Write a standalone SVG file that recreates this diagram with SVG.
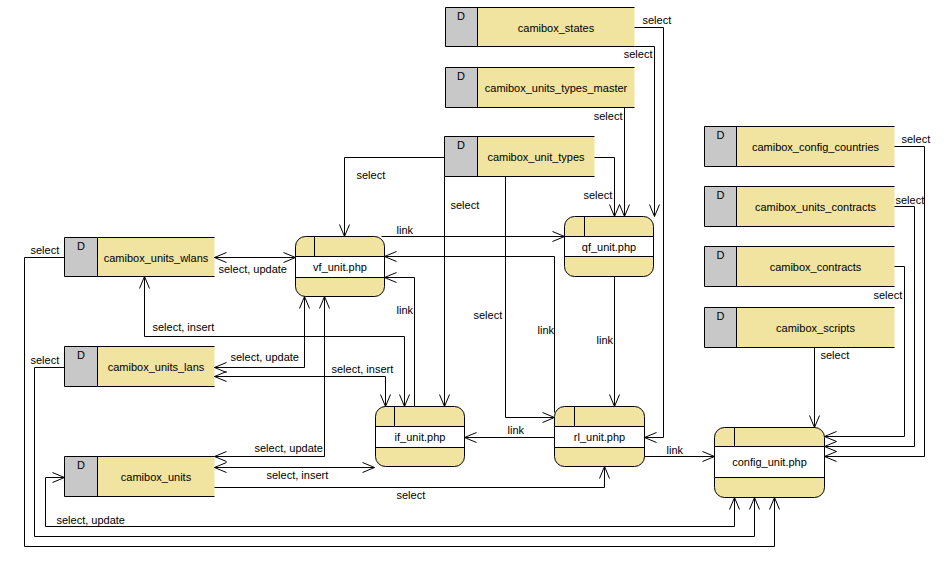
<svg xmlns="http://www.w3.org/2000/svg" width="952" height="568" viewBox="0 0 952 568">
<style>
text{font-family:"Liberation Sans",Arial,sans-serif;font-size:11px;fill:#000}
.c{text-anchor:middle}
.e{text-anchor:end}
.gray{fill:#c8c8c8}
.yel{fill:#f0e4a0}
.edge{fill:none;stroke:#000;stroke-width:1}
.band{fill:#fff}
.conn path{fill:none;stroke:#000;stroke-width:1}
.one{marker-end:url(#arr)}
.two{marker-start:url(#arr);marker-end:url(#arr)}
</style>
<defs>
<marker id="arr" viewBox="0 0 13 11" markerWidth="13" markerHeight="11" refX="12.5" refY="5.5" orient="auto-start-reverse" markerUnits="userSpaceOnUse">
<path d="M0.5,0.5 L12.5,5.5 L0.5,10.5" fill="none" stroke="#000" stroke-width="1"/>
</marker>
</defs>
<rect width="952" height="568" fill="#fff"/>
<g transform="translate(0.5,0.5)">
<!-- data stores -->
<g id="camibox_states">
<rect class="gray" x="445" y="7" width="32" height="39"/><rect class="yel" x="477" y="7" width="157" height="39"/>
<path class="edge" d="M634,7 H445 V46 H634 M477,7 V46"/>
<text class="c" x="460.5" y="19">D</text><text class="c" x="555.5" y="31">camibox_states</text>
</g>
<g id="camibox_units_types_master">
<rect class="gray" x="445" y="67" width="32" height="40"/><rect class="yel" x="477" y="67" width="157" height="40"/>
<path class="edge" d="M634,67 H445 V107 H634 M477,67 V107"/>
<text class="c" x="460.5" y="79">D</text><text class="c" x="555.5" y="91">camibox_units_types_master</text>
</g>
<g id="camibox_unit_types">
<rect class="gray" x="444" y="136" width="33" height="40"/><rect class="yel" x="477" y="136" width="117" height="40"/>
<path class="edge" d="M594,136 H444 V176 H594 M477,136 V176"/>
<text class="c" x="460.5" y="148">D</text><text class="c" x="535.5" y="160">camibox_unit_types</text>
</g>
<g id="camibox_config_countries">
<rect class="gray" x="704" y="126" width="32" height="40"/><rect class="yel" x="736" y="126" width="158" height="40"/>
<path class="edge" d="M894,126 H704 V166 H894 M736,126 V166"/>
<text class="c" x="720" y="138">D</text><text class="c" x="815" y="150">camibox_config_countries</text>
</g>
<g id="camibox_units_contracts">
<rect class="gray" x="704" y="186" width="32" height="40"/><rect class="yel" x="736" y="186" width="158" height="40"/>
<path class="edge" d="M894,186 H704 V226 H894 M736,186 V226"/>
<text class="c" x="720" y="198">D</text><text class="c" x="815" y="210">camibox_units_contracts</text>
</g>
<g id="camibox_contracts">
<rect class="gray" x="704" y="246" width="32" height="40"/><rect class="yel" x="736" y="246" width="158" height="40"/>
<path class="edge" d="M894,246 H704 V286 H894 M736,246 V286"/>
<text class="c" x="720" y="258">D</text><text class="c" x="815" y="270">camibox_contracts</text>
</g>
<g id="camibox_scripts">
<rect class="gray" x="704" y="307" width="32" height="40"/><rect class="yel" x="736" y="307" width="158" height="40"/>
<path class="edge" d="M894,307 H704 V347 H894 M736,307 V347"/>
<text class="c" x="720" y="319">D</text><text class="c" x="815" y="331">camibox_scripts</text>
</g>
<g id="camibox_units_wlans">
<rect class="gray" x="64" y="237" width="33" height="39"/><rect class="yel" x="97" y="237" width="117" height="39"/>
<path class="edge" d="M214,237 H64 V276 H214 M97,237 V276"/>
<text class="c" x="80.5" y="249">D</text><text class="c" x="155.5" y="261">camibox_units_wlans</text>
</g>
<g id="camibox_units_lans">
<rect class="gray" x="64" y="346" width="33" height="40"/><rect class="yel" x="97" y="346" width="117" height="40"/>
<path class="edge" d="M214,346 H64 V386 H214 M97,346 V386"/>
<text class="c" x="80.5" y="358">D</text><text class="c" x="155.5" y="370">camibox_units_lans</text>
</g>
<g id="camibox_units">
<rect class="gray" x="64" y="456" width="33" height="40"/><rect class="yel" x="97" y="456" width="117" height="40"/>
<path class="edge" d="M214,456 H64 V496 H214 M97,456 V496"/>
<text class="c" x="80.5" y="468">D</text><text class="c" x="155.5" y="480">camibox_units</text>
</g>
<!-- processes -->
<g id="vf_unit">
<rect class="yel" x="295" y="236" width="89" height="60" rx="10"/>
<rect class="band" x="295" y="256" width="89" height="21"/>
<path class="edge" d="M295,256 H384 M295,277 H384 M314,236 V256"/>
<rect class="edge" x="295" y="236" width="89" height="60" rx="10"/>
<text class="c" x="339.5" y="270">vf_unit.php</text>
</g>
<g id="qf_unit">
<rect class="yel" x="564" y="216" width="89" height="60" rx="10"/>
<rect class="band" x="564" y="236" width="89" height="20"/>
<path class="edge" d="M564,236 H653 M564,256 H653 M584,216 V236"/>
<rect class="edge" x="564" y="216" width="89" height="60" rx="10"/>
<text class="c" x="608.5" y="250">qf_unit.php</text>
</g>
<g id="if_unit">
<rect class="yel" x="375" y="406" width="89" height="60" rx="10"/>
<rect class="band" x="375" y="426" width="89" height="21"/>
<path class="edge" d="M375,426 H464 M375,447 H464 M394,406 V426"/>
<rect class="edge" x="375" y="406" width="89" height="60" rx="10"/>
<text class="c" x="419.5" y="440">if_unit.php</text>
</g>
<g id="rl_unit">
<rect class="yel" x="554" y="406" width="90" height="60" rx="10"/>
<rect class="band" x="554" y="426" width="90" height="21"/>
<path class="edge" d="M554,426 H644 M554,447 H644 M574,406 V426"/>
<rect class="edge" x="554" y="406" width="90" height="60" rx="10"/>
<text class="c" x="599" y="440">rl_unit.php</text>
</g>
<g id="config_unit">
<rect class="yel" x="714" y="427" width="110" height="70" rx="10"/>
<rect class="band" x="714" y="446" width="110" height="31"/>
<path class="edge" d="M714,446 H824 M714,477 H824 M734,427 V446"/>
<rect class="edge" x="714" y="427" width="110" height="70" rx="10"/>
<text class="c" x="769" y="465">config_unit.php</text>
</g>
<!-- connectors -->
<g id="connectors" class="conn">
<path class="one" d="M634,27 H663 V437 H644"/>
<path class="one" d="M634,46 H654 V216"/>
<path class="one" d="M624,107 V216"/>
<path class="one" d="M594,157 H614 V216"/>
<path class="one" d="M444,157 H344 V236"/>
<path class="one" d="M444,176 V406"/>
<path class="one" d="M505,176 V417 H554"/>
<path class="one" d="M381,236 H564"/>
<path class="one" d="M554,412 V256 H384"/>
<path class="one" d="M414,406 V277 H384"/>
<path class="one" d="M614,276 V406"/>
<path class="one" d="M554,437 H464"/>
<path class="one" d="M644,456 H714"/>
<path class="two" d="M214,257 H295"/>
<path class="two" d="M404,406 V336 H144 V276"/>
<path class="two" d="M214,367 H304 V296"/>
<path class="two" d="M214,376 H385 V406"/>
<path class="two" d="M214,456 H324 V296"/>
<path class="two" d="M214,467 H374"/>
<path class="one" d="M214,487 H604 V466"/>
<path class="two" d="M64,477 H45 V526 H734 V497"/>
<path class="one" d="M64,367 H34 V536 H754 V497"/>
<path class="one" d="M64,257 H24 V546 H774 V497"/>
<path class="one" d="M894,146 H924 V456 H824"/>
<path class="one" d="M894,206 H914 V446 H824"/>
<path class="one" d="M894,266 H904 V436 H824"/>
<path class="one" d="M814,347 V427"/>
</g>
<!-- connector labels -->
<g id="labels">
<text x="642" y="23">select</text>
<text class="e" x="652" y="57">select</text>
<text class="e" x="622" y="119">select</text>
<text x="583" y="198">select</text>
<text x="356" y="178">select</text>
<text x="450" y="208">select</text>
<text x="473" y="318">select</text>
<text x="396" y="233">link</text>
<text x="537" y="333">link</text>
<text x="396" y="313">link</text>
<text x="596" y="343">link</text>
<text x="507" y="433">link</text>
<text x="666" y="453">link</text>
<text x="218" y="272">select, update</text>
<text x="152" y="330">select, insert</text>
<text x="230" y="360">select, update</text>
<text x="331" y="372">select, insert</text>
<text x="254" y="451">select, update</text>
<text x="266" y="478">select, insert</text>
<text x="396" y="498">select</text>
<text x="56" y="523">select, update</text>
<text x="30" y="363">select</text>
<text x="30" y="253">select</text>
<text x="901" y="142">select</text>
<text x="895" y="203">select</text>
<text x="873" y="298">select</text>
<text x="820" y="358">select</text>
</g>
</g>
</svg>
